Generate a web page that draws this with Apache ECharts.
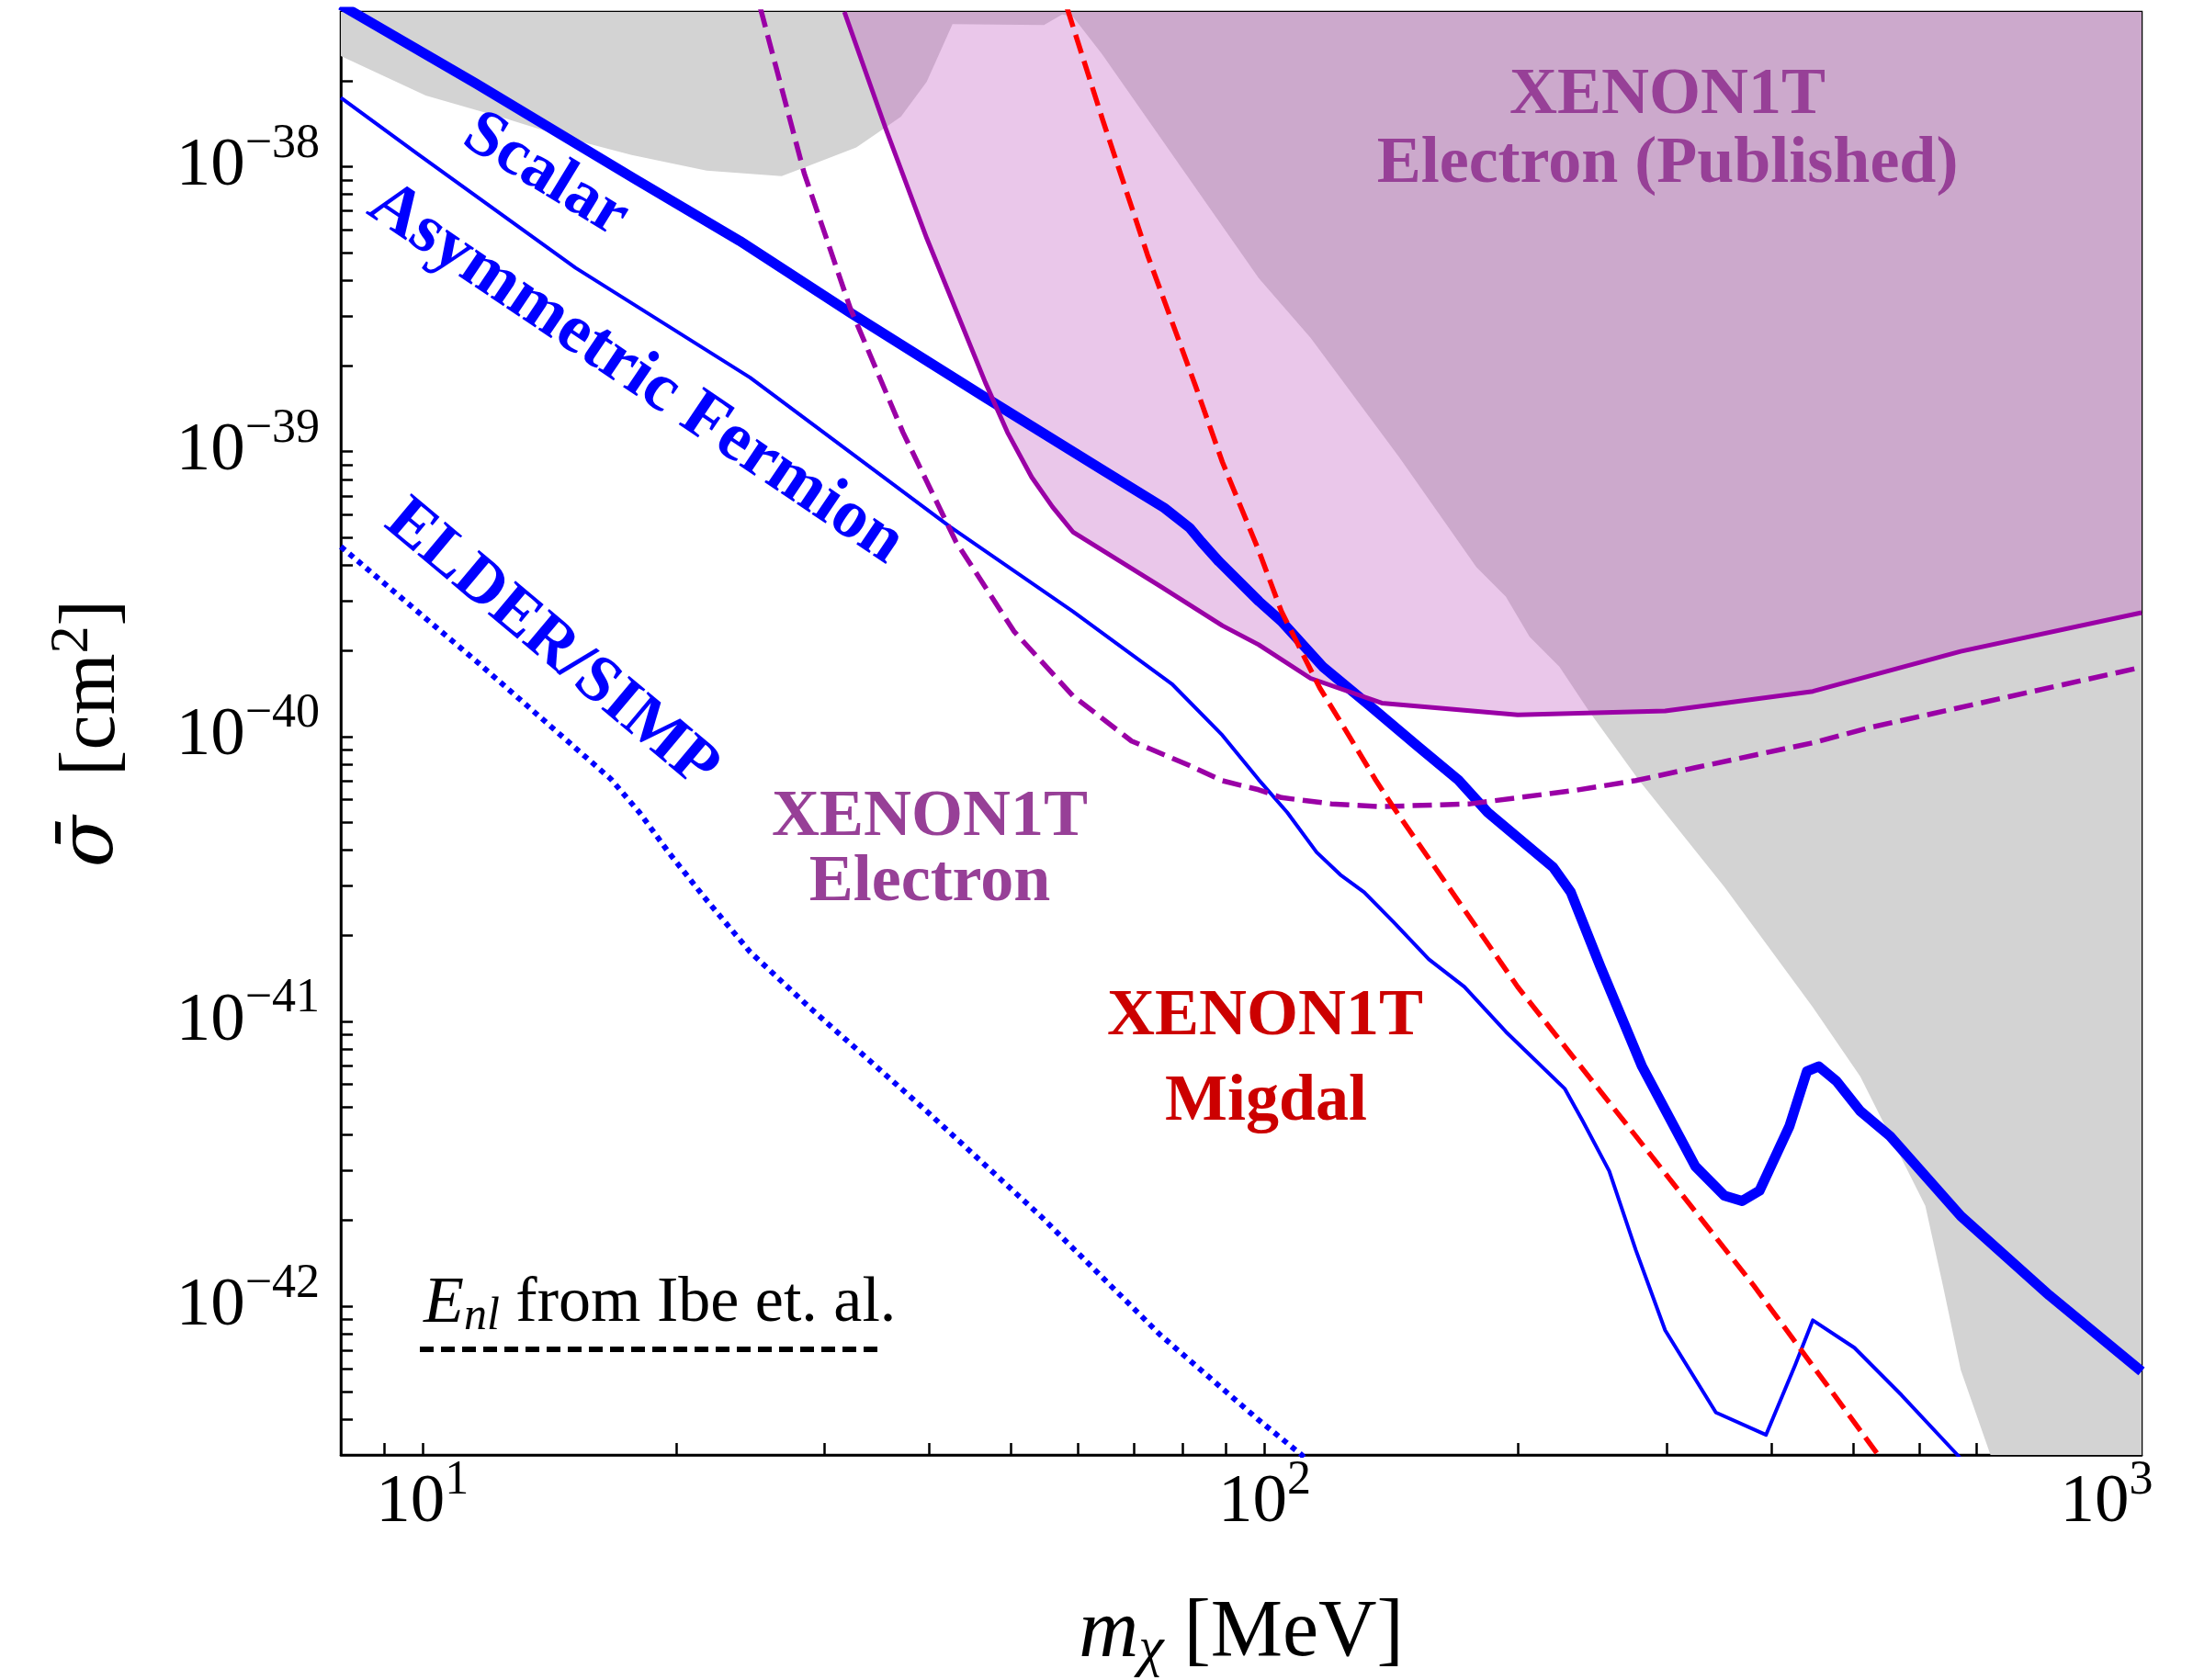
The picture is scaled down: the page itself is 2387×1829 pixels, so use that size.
<!DOCTYPE html>
<html>
<head>
<meta charset="utf-8">
<script src="https://cdn.jsdelivr.net/npm/echarts@6/dist/echarts.min.js"></script>
<style>
html,body{margin:0;padding:0;background:#ffffff;}
#c{width:2387px;height:1829px;}
</style>
</head>
<body>
<div id="c"></div>
<script>
// ---------------- data (m_chi [MeV], sigma [cm^2]) ----------------
const xMajorTicks = [10, 100, 1000];
const xMajorLabels = ['1', '2', '3'];
const xAllTicks = [9, 10, 20, 30, 40, 50, 60, 70, 80, 90, 100, 200, 300, 400, 500, 600, 700, 800, 900, 1000];
const yMajorTicks = [1e-42, 1e-41, 1e-40, 1e-39, 1e-38];
const yMajorLabels = ['\u221242', '\u221241', '\u221240', '\u221239', '\u221238'];
const yAllTicks = [4e-43, 5e-43, 6e-43, 7e-43, 8e-43, 9e-43,
  1e-42, 2e-42, 3e-42, 4e-42, 5e-42, 6e-42, 7e-42, 8e-42, 9e-42,
  1e-41, 2e-41, 3e-41, 4e-41, 5e-41, 6e-41, 7e-41, 8e-41, 9e-41,
  1e-40, 2e-40, 3e-40, 4e-40, 5e-40, 6e-40, 7e-40, 8e-40, 9e-40,
  1e-39, 2e-39, 3e-39, 4e-39, 5e-39, 6e-39, 7e-39, 8e-39, 9e-39,
  1e-38, 2e-38, 3e-38];
const xRange = [8, 1100];
const yRange = [3e-43, 3.5e-38];

const scalar = [[8.0, 3.7e-38], [11.58, 1.96e-38], [17.84, 9.1e-39], [23.8, 5.5e-39], [32.2, 3.08e-39],
  [46.6, 1.55e-39], [64.1, 8.65e-40], [76, 6.35e-40], [81.5, 5.4e-40], [84.1, 4.83e-40],
  [88.3, 4.11e-40], [98.5, 2.98e-40],
  [104.7, 2.54e-40], [117.2, 1.76e-40], [133.4, 1.28e-40], [151.8, 9.27e-41], [169.9, 7.03e-41],
  [184.1, 5.41e-41], [220, 3.48e-41], [231, 2.84e-41], [250.6, 1.55e-41], [280.7, 6.94e-42],
  [324.6, 3.10e-42], [351.7, 2.44e-42], [369, 2.34e-42], [387, 2.54e-42], [420, 4.28e-42],
  [440.6, 6.67e-42], [455, 6.94e-42], [478, 6.15e-42], [510, 4.83e-42], [553, 3.95e-42],
  [671, 2.07e-42], [855, 1.09e-42], [1100, 5.9e-43]];

const asymFermion = [[8.0, 1.75e-38], [9.87, 1.11e-38], [15.2, 4.42e-39], [24.5, 1.82e-39], [42.3, 5.45e-40],
  [59.2, 2.75e-40], [77.6, 1.53e-40], [89.1, 1.01e-40], [98.4, 7.05e-41], [106.4, 5.41e-41],
  [115.3, 3.92e-41], [123, 3.27e-41], [131.3, 2.84e-41], [142.3, 2.23e-41], [156.7, 1.65e-41],
  [172.7, 1.32e-41], [193.4, 9.19e-42], [227.3, 5.79e-42], [238.7, 4.46e-42], [256.6, 2.98e-42],
  [276, 1.57e-42], [299, 8.22e-43], [343.5, 4.23e-43], [394, 3.53e-43], [426.6, 6.2e-43],
  [447.7, 8.91e-43], [501.6, 7.14e-43], [570.6, 4.87e-43], [665, 3.0e-43], [700, 2.5e-43]];

const elderSimp = [[8.0, 4.64e-40], [11.58, 1.84e-40], [16.73, 7.1e-41], [18.1, 5.41e-41], [19.6, 3.92e-41],
  [21.6, 2.73e-41], [24.5, 1.75e-41], [28.8, 1.12e-41], [39.7, 4.83e-42], [54.2, 2.07e-42],
  [75.3, 7.89e-43], [98.4, 3.98e-43], [110.7, 3.0e-43], [115, 2.6e-43]];

const xenonElectron = [[25.2, 3.6e-38], [28.4, 9.5e-39], [32.2, 3.2e-39], [37.2, 1.17e-39], [43.0, 4.83e-40],
  [50.4, 2.34e-40], [59.2, 1.39e-40], [69.5, 9.64e-41], [81.5, 7.9e-41], [89, 7.0e-41],
  [98.4, 6.5e-41], [104.7, 6.1e-41], [120, 5.8e-41], [137.8, 5.67e-41], [175.4, 5.8e-41],
  [234.8, 6.48e-41], [276, 7.0e-41], [324.6, 7.77e-41], [447.7, 9.5e-41], [527, 1.08e-40],
  [619, 1.2e-40], [1100, 1.75e-40]];

const xenonPublished = [[31.7, 3.5e-38], [35.5, 1.36e-38], [39.7, 5.62e-39], [46.6, 1.75e-39], [49.5, 1.17e-39],
  [52.9, 8.14e-40], [56, 6.4e-40], [59.2, 5.23e-40], [75.3, 3.36e-40], [89.1, 2.45e-40],
  [98.4, 2.1e-40], [113.4, 1.6e-40], [137.8, 1.31e-40], [199.8, 1.19e-40], [299, 1.23e-40],
  [447.7, 1.44e-40], [671, 1.99e-40], [1100, 2.72e-40]];

const xenonMigdal = [[58.3, 3.6e-38], [64.2, 1.47e-38], [72.6, 4.91e-39], [82.8, 1.70e-39], [89.1, 9.2e-40],
  [98.4, 4.5e-40], [104.7, 2.75e-40], [116.3, 1.48e-40], [123, 1.13e-40], [135.5, 7.03e-41],
  [142.3, 5.63e-41], [199.8, 1.32e-41], [276, 3.95e-42], [381, 1.18e-42], [535.5, 3.0e-43],
  [560, 2.4e-43]];

const excludedBoundary = [[8, 2.45e-38], [10.09, 1.78e-38], [12.55, 1.48e-38], [15.2, 1.24e-38], [17.72, 1.10e-38],
  [21.75, 9.71e-39], [26.7, 9.28e-39], [28.8, 1.01e-38], [32.75, 1.17e-38], [35.4, 1.37e-38],
  [37.0, 1.50e-38], [39.7, 1.99e-38], [42.6, 3.17e-38], [54.7, 3.15e-38], [57.5, 3.43e-38],
  [59.2, 3.37e-38], [64.1, 2.49e-38], [98.4, 4.07e-39], [113.4, 2.51e-39], [144.5, 9.57e-40],
  [178.4, 3.94e-40], [193.4, 3.1e-40], [206.4, 2.24e-40], [223.9, 1.76e-40], [242.7, 1.23e-40],
  [278, 7.05e-41], [351.7, 2.96e-41], [447.7, 1.12e-41], [509.8, 6.4e-42], [609, 2.25e-42],
  [639, 1.18e-42], [671, 5.96e-43], [727.8, 3e-43], [1100, 3e-43]];

// ---------------- helpers ----------------
// y is plotted in units of 1e-40 cm^2 (avoids rounding of tiny numbers in the log scale);
// labels still show the value in cm^2.
const SIGMA_UNIT = 1e-40;
const toPlot = arr => arr.map(p => [p[0], p[1] / SIGMA_UNIT]);
const yMajorPlot = yMajorTicks.map(v => v / SIGMA_UNIT);
const yAllPlot = yAllTicks.map(v => v / SIGMA_UNIT);

const SERIF = '"Liberation Serif", "DejaVu Serif", serif';
const BLUE = '#0000ff';
const PURPLE_LINE = '#9a00a6';
const PURPLE_TEXT = '#974097';
const RED = '#ff0000';
const RED_TEXT = '#cc0000';

function nearestIdx(ticks, v) {
  const lv = Math.log10(v);
  let best = 0, bd = Infinity;
  ticks.forEach((t, i) => { const d = Math.abs(Math.log10(t) - lv); if (d < bd) { bd = d; best = i; } });
  return best;
}

function lineSeries(name, data, color, width, dash, z) {
  return {
    name: name, type: 'line', data: toPlot(data), showSymbol: false, symbol: 'none', smooth: false,
    lineStyle: { color: color, width: width, type: dash || 'solid', cap: 'butt', join: 'round' },
    silent: true, animation: false, z: z || 3, clip: true
  };
}

// filled region above a boundary curve, up to the top of the plot
function regionSeries(name, boundary, color, z) {
  const pts = toPlot(boundary);
  const yTop = yRange[1] / SIGMA_UNIT;
  return {
    name: name, type: 'custom', coordinateSystem: 'cartesian2d', silent: true, animation: false,
    z: z, clip: true, data: [[pts[0][0], yTop]],
    renderItem: function (params, api) {
      const poly = pts.map(p => api.coord(p));
      poly.push(api.coord([pts[pts.length - 1][0], yTop]));
      poly.push(api.coord([pts[0][0], yTop]));
      return { type: 'polygon', shape: { points: poly }, style: { fill: color, stroke: null }, silent: true };
    }
  };
}

const chart = echarts.init(document.getElementById('c'), null, { renderer: 'canvas', width: 2387, height: 1829 });

const labelRich = {
  b: { fontFamily: SERIF, fontSize: 75, color: '#000' },
  s: { fontFamily: SERIF, fontSize: 52, color: '#000', padding: [0, 0, 48, 0] }
};

function textEl(txt, x, y, color, size, rotDeg) {
  return { type: 'text', x: x, y: y, rotation: (rotDeg || 0) * Math.PI / 180, z: 100, silent: true,
    style: { text: txt, fontFamily: SERIF, fontWeight: 'bold', fontSize: size, fill: color,
             align: 'center', verticalAlign: 'middle', textAlign: 'center', textVerticalAlign: 'middle' } };
}

const option = {
  backgroundColor: '#ffffff',
  animation: false,
  grid: { left: 371, right: 56, top: 13, bottom: 245, containLabel: false, outerBoundsMode: 'none',
          show: true, borderColor: '#000', borderWidth: 2.5, backgroundColor: 'transparent' },
  xAxis: {
    type: 'log', logBase: 10, min: xRange[0], max: xRange[1],
    name: '{i|m}{sub|\u03c7} [MeV]', nameLocation: 'middle', nameGap: 146,
    nameTextStyle: { fontFamily: SERIF, fontSize: 88, color: '#000',
      rich: { i: { fontFamily: SERIF, fontStyle: 'italic', fontSize: 90, color: '#000' },
              sub: { fontFamily: SERIF, fontStyle: 'italic', fontSize: 62, color: '#000', padding: [36, 0, 0, 0] } } },
    axisLine: { show: true, lineStyle: { color: '#000', width: 2.5 } },
    axisTick: { show: true, inside: true, length: 13, lineStyle: { color: '#000', width: 2.5 }, customValues: xAllTicks },
    minorTick: { show: false },
    splitLine: { show: false },
    axisLabel: {
      customValues: xMajorTicks, margin: 2,
      formatter: function (v) { return '{b|10}{s|' + xMajorLabels[nearestIdx(xMajorTicks, v)] + '}'; },
      rich: labelRich
    }
  },
  yAxis: {
    type: 'log', logBase: 10, min: yRange[0] / SIGMA_UNIT, max: yRange[1] / SIGMA_UNIT,
    name: '{i|\u03c3\u0304}\u2002[cm{sup|2}]', nameLocation: 'middle', nameGap: 218, nameRotate: 90,
    nameTextStyle: { fontFamily: SERIF, fontSize: 86, color: '#000',
      rich: { i: { fontFamily: '"DejaVu Serif", serif', fontStyle: 'italic', fontSize: 82, color: '#000' },
              sup: { fontFamily: SERIF, fontSize: 60, color: '#000', padding: [0, 0, 44, 0] } } },
    axisLine: { show: true, lineStyle: { color: '#000', width: 2.5 } },
    axisTick: { show: true, inside: true, length: 13, lineStyle: { color: '#000', width: 2.5 }, customValues: yAllPlot },
    minorTick: { show: false },
    splitLine: { show: false },
    axisLabel: {
      customValues: yMajorPlot, margin: 23,
      formatter: function (v) { return '{b|10}{s|' + yMajorLabels[nearestIdx(yMajorPlot, v)] + '}'; },
      rich: labelRich
    }
  },
  series: [
    regionSeries('excluded', excludedBoundary, '#d3d3d3', 1),
    regionSeries('XENON1T Electron (Published) region', xenonPublished, 'rgba(190,80,190,0.32)', 2),
    lineSeries('Asymmetric Fermion', asymFermion, BLUE, 4, 'solid', 3),
    lineSeries('ELDER/SIMP', elderSimp, BLUE, 6, [6, 6], 3),
    lineSeries('Scalar', scalar, BLUE, 11, 'solid', 3),
    lineSeries('XENON1T Electron (Published)', xenonPublished, PURPLE_LINE, 5, 'solid', 4),
    lineSeries('XENON1T Electron', xenonElectron, PURPLE_LINE, 5.5, [21, 9], 4),
    lineSeries('XENON1T Migdal', xenonMigdal, RED, 5.5, [21, 9], 5)
  ],
  graphic: [
    textEl('Scalar', 594, 191, BLUE, 72, -31.5),
    textEl('Asymmetric Fermion', 692, 407, BLUE, 75, -34),
    textEl('ELDER/SIMP', 600, 702, BLUE, 72, -40),
    textEl('XENON1T', 1012, 890, PURPLE_TEXT, 72),
    textEl('Electron', 1012, 961, PURPLE_TEXT, 72),
    textEl('XENON1T', 1377, 1107, RED_TEXT, 72),
    textEl('Migdal', 1378, 1200, RED_TEXT, 72),
    textEl('XENON1T', 1815, 104, PURPLE_TEXT, 72),
    textEl('Electron (Published)', 1815, 179, PURPLE_TEXT, 72),
    { type: 'text', x: 461, y: 1420, z: 100, silent: true,
      style: { text: '{i|E}{sub|nl} from Ibe et. al.', fontFamily: SERIF, fontSize: 70, fill: '#000',
               align: 'left', verticalAlign: 'middle', textAlign: 'left', textVerticalAlign: 'middle',
               rich: { i: { fontFamily: SERIF, fontStyle: 'italic', fontSize: 72, fill: '#000', color: '#000' },
                       sub: { fontFamily: SERIF, fontStyle: 'italic', fontSize: 50, fill: '#000', color: '#000', padding: [28, 0, 0, 0] } } } },
    { type: 'line', z: 100, silent: true,
      shape: { x1: 457, y1: 1469, x2: 962, y2: 1469 },
      style: { stroke: '#000', lineWidth: 6, lineDash: [15, 8] } }
  ]
};
chart.setOption(option);
</script>
</body>
</html>
